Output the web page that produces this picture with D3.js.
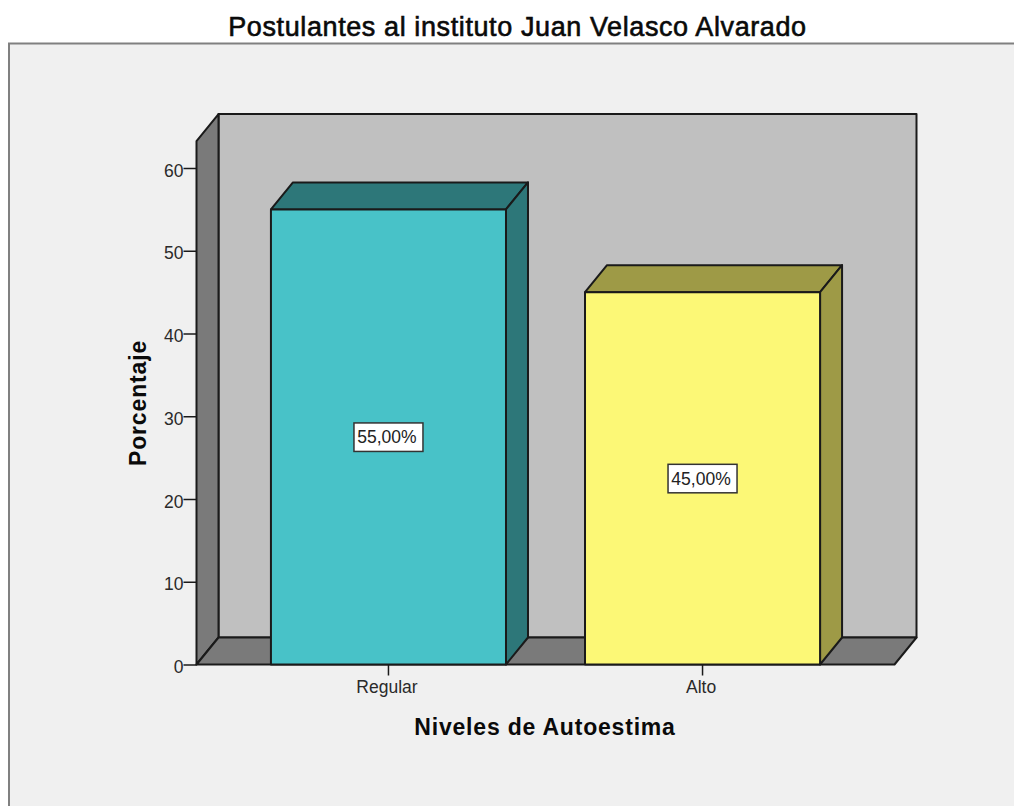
<!DOCTYPE html>
<html><head><meta charset="utf-8">
<script src="https://cdn.jsdelivr.net/npm/d3@7"></script>
<style>html,body{margin:0;padding:0;background:#fff;overflow:hidden}svg{display:block}text{font-family:"Liberation Sans",Arial,sans-serif}</style>
</head><body><svg id="c" width="1014" height="806"></svg>
<script>
const categories = ["Regular", "Alto"];
const values = [55, 45];
const valueLabels = ["55,00%", "45,00%"];
const yTicks = [0, 10, 20, 30, 40, 50, 60];
const frontColors = ["#48c2c8", "#fcf876"];
const sideColors = ["#2d7779", "#9e9a46"];
const titleText = "Postulantes al instituto Juan Velasco Alvarado";
const xTitle = "Niveles de Autoestima";
const yTitle = "Porcentaje";

const svg = d3.select("#c");
const line = "#1a1a1a";
const y = d3.scaleLinear().domain([0, 60]).range([664.5, 168]);
const x = d3.scaleBand().domain(categories).range([196.5, 894.5]).paddingInner(0.2516).paddingOuter(0.237);
const dx = 22, dy = -27, yMax = 63.25;
const poly = (pts, fill) => svg.append("polygon").attr("points", pts.map(p => p.join(",")).join(" "))
  .attr("fill", fill).attr("stroke", line).attr("stroke-width", 2).attr("stroke-linejoin", "round");

svg.append("rect").attr("x", 9).attr("y", 43.5).attr("width", 1100).attr("height", 900)
  .attr("fill", "#f0f0f0").attr("stroke", "#808080").attr("stroke-width", 2);
svg.append("text").attr("x", 517.5).attr("y", 36).attr("text-anchor", "middle")
  .attr("font-size", 27).attr("letter-spacing", 0.6).attr("fill", "#0a0a0a")
  .attr("stroke", "#0a0a0a").attr("stroke-width", 0.6).text(titleText);

const x0 = x.range()[0], x1 = x.range()[1], yb = y(0), yt = y(yMax);
poly([[x0 + dx, yt + dy], [x1 + dx, yt + dy], [x1 + dx, yb + dy], [x0 + dx, yb + dy]], "#c0c0c0");
poly([[x0, yt], [x0 + dx, yt + dy], [x0 + dx, yb + dy], [x0, yb]], "#7a7a7a");
poly([[x0, yb], [x0 + dx, yb + dy], [x1 + dx, yb + dy], [x1, yb]], "#7a7a7a");

categories.forEach((c, i) => {
  const l = x(c), r = l + x.bandwidth(), t = y(values[i]);
  poly([[l, t], [l + dx, t + dy], [r + dx, t + dy], [r, t]], sideColors[i]);
  poly([[r, t], [r + dx, t + dy], [r + dx, yb + dy], [r, yb]], sideColors[i]);
  poly([[l, t], [r, t], [r, yb], [l, yb]], frontColors[i]);
});

const yAxis = d3.axisLeft(y).tickValues(yTicks).tickSize(13).tickSizeOuter(0).tickPadding(0);
const gy = svg.append("g").attr("transform", `translate(${x0},0)`).call(yAxis);
gy.select(".domain").remove();
gy.selectAll("line").attr("stroke", line).attr("stroke-width", 1.5);
gy.selectAll("text").attr("font-size", 17.5).attr("fill", "#2a2a2a").attr("dy", "0.46em").attr("font-family", '"Liberation Sans"');

const xAxis = d3.axisBottom(x).tickSize(11).tickSizeOuter(0).tickPadding(5);
const gx = svg.append("g").attr("transform", `translate(0,${yb})`).call(xAxis);
gx.select(".domain").remove();
gx.selectAll("line").attr("stroke", line).attr("stroke-width", 1.5);
gx.selectAll("text").attr("font-size", 17.5).attr("fill", "#2a2a2a").attr("dx", -1.5).attr("font-family", '"Liberation Sans"');

categories.forEach((c, i) => {
  const cx = x(c) + x.bandwidth() / 2, cy = y(values[i] / 2);
  svg.append("rect").attr("x", cx - 34.5).attr("y", cy - 14).attr("width", 69).attr("height", 28.5)
    .attr("fill", "#fff").attr("stroke", "#333").attr("stroke-width", 1.5);
  svg.append("text").attr("x", cx - 1.5).attr("y", cy + 6.5).attr("text-anchor", "middle")
    .attr("font-size", 17.5).attr("fill", "#222").text(valueLabels[i]);
});

svg.append("text").attr("x", 545).attr("y", 735).attr("text-anchor", "middle")
  .attr("font-size", 23).attr("font-weight", "bold").attr("letter-spacing", 0.8).attr("fill", "#0a0a0a").text(xTitle);
svg.append("text").attr("transform", "translate(146,403) rotate(-90)").attr("text-anchor", "middle")
  .attr("font-size", 23).attr("font-weight", "bold").attr("letter-spacing", 0.85).attr("fill", "#0a0a0a").text(yTitle);
</script></body></html>
